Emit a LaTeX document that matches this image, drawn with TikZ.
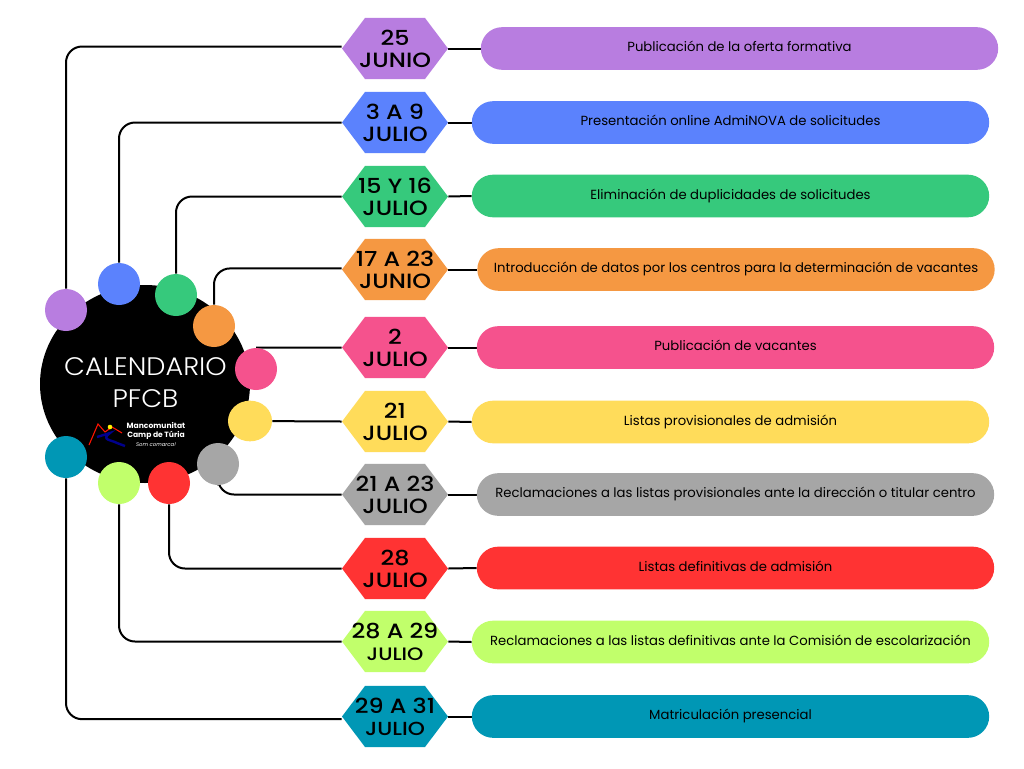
\documentclass[tikz,border=0pt]{standalone}
\usepackage{fontspec}
\setmainfont{Poppins}
\newfontfamily\fechafont[FakeStretch=1.15]{Poppins Medium}
\newfontfamily\titulofont[FakeStretch=1.07]{Poppins Light}
\usetikzlibrary{shapes.symbols,shapes.geometric,shapes.misc,backgrounds}
\definecolor{cPurple}{HTML}{B87DE0}
\definecolor{cBlue}{HTML}{5B82FD}
\definecolor{cGreen}{HTML}{36C97C}
\definecolor{cOrange}{HTML}{F59842}
\definecolor{cPink}{HTML}{F5528D}
\definecolor{cYellow}{HTML}{FFDC5A}
\definecolor{cGray}{HTML}{A6A6A6}
\definecolor{cRed}{HTML}{FF3333}
\definecolor{cLime}{HTML}{C1FF6B}
\definecolor{cTeal}{HTML}{0097B5}
\newcommand{\fechatxt}[2]{\makebox[0pt]{#1}\\\makebox[0pt]{#2}}
\tikzset{
	dot/.style={circle,fill=#1,minimum size=31.5,inner sep=0},
	fecha/.style={signal,signal to=west and east,signal pointer angle=106,fill=#1,minimum width=79.5,minimum height=45.8,inner sep=0,align=center,font=\fechafont\fontsize{15.5}{16.5}\selectfont},
	paso/.style={rounded rectangle,fill=#1,minimum width=388,minimum height=32,inner sep=0,text height=7.5,text depth=2.5,font=\fontsize{9.9}{11}\selectfont},
	enlace/.style={black,line width=1.5,rounded corners=12},
}
\begin{document}
\begin{tikzpicture}[x=0.75pt,y=-0.75pt]
	\useasboundingbox (0,0) rectangle (1024,768);

	\node[ellipse,fill=black,minimum width=157.5,minimum height=148.5,inner sep=0] (centro) at (145,384) {};
	\node[white,align=center,font=\titulofont\fontsize{19}{24.5}\selectfont] (titulo) at (145.5,382.5) {CALENDARIO\\PFCB};

	\draw[red!85!orange,line width=0.8] (89,445) -- (98,424) -- (105,432) -- (112,427) -- (122,433);
	\draw[blue!55!black,line width=1.8] (97,437) -- (110,433) .. controls (100,440) and (112,440) .. (117,443) -- (125,446);
	\fill[yellow] (110,427) circle (2.3);
	\node[white,align=center,font=\fontsize{5.7}{7}\selectfont\bfseries] (logo) at (156,431) {Mancomunitat\\Camp de Túria};
	\node[white,font=\fontsize{4}{5}\selectfont\itshape] (lema) at (156,444.5) {Som comarca!};

	\node[dot=cPurple] (dotA) at (66,310) {};
	\node[dot=cBlue] (dotB) at (119,284) {};
	\node[dot=cGreen] (dotC) at (176,295) {};
	\node[dot=cOrange] (dotD) at (214,326) {};
	\node[dot=cPink] (dotE) at (256,369) {};
	\node[dot=cYellow,minimum width=33,minimum height=30.5,ellipse] (dotF) at (250,421) {};
	\node[dot=cGray] (dotG) at (218,464) {};
	\node[dot=cRed] (dotH) at (169,483) {};
	\node[dot=cLime] (dotI) at (119,483) {};
	\node[dot=cTeal] (dotJ) at (66,457) {};

	\node[fecha=cPurple] (hexA) at (395,48.5) {\fechatxt{25}{JUNIO}};
	\node[fecha=cBlue] (hexB) at (395,122.5) {\fechatxt{3 A 9}{JULIO}};
	\node[fecha=cGreen] (hexC) at (395,196.5) {\fechatxt{15 Y 16}{JULIO}};
	\node[fecha=cOrange] (hexD) at (395,269.5) {\fechatxt{17 A 23}{JUNIO}};
	\node[fecha=cPink] (hexE) at (395,347.5) {\fechatxt{2}{JULIO}};
	\node[fecha=cYellow] (hexF) at (395,421.5) {\fechatxt{21}{JULIO}};
	\node[fecha=cGray] (hexG) at (395,494.5) {\fechatxt{21 A 23}{JULIO}};
	\node[fecha=cRed] (hexH) at (395,568.5) {\fechatxt{28}{JULIO}};
	\node[fecha=cLime] (hexI) at (395,641.5) {\fechatxt{28 A 29}{\fontsize{13.5}{16.5}\selectfont JULIO}};
	\node[fecha=cTeal] (hexJ) at (395,716.5) {\fechatxt{29 A 31}{\fontsize{14.2}{16.5}\selectfont JULIO}};

	\node[paso=cPurple] (pasoA) at (739.5,48.5) {Publicación de la oferta formativa};
	\node[paso=cBlue] (pasoB) at (730.5,122.5) {Presentación online AdmiNOVA de solicitudes};
	\node[paso=cGreen] (pasoC) at (730.5,196) {Eliminación de duplicidades de solicitudes};
	\node[paso=cOrange] (pasoD) at (736,269.5) {Introducción de datos por los centros para la determinación de vacantes};
	\node[paso=cPink] (pasoE) at (735.5,347.5) {Publicación de vacantes};
	\node[paso=cYellow] (pasoF) at (730.5,422) {Listas provisionales de admisión};
	\node[paso=cGray] (pasoG) at (735.5,494.5) {Reclamaciones a las listas provisionales ante la dirección o titular centro};
	\node[paso=cRed] (pasoH) at (735.5,568) {Listas definitivas de admisión};
	\node[paso=cLime] (pasoI) at (730.5,642) {Reclamaciones a las listas definitivas ante la Comisión de escolarización};
	\node[paso=cTeal] (pasoJ) at (730.5,716.5) {Matriculación presencial};

	\begin{scope}[on background layer]
		\fill[white] (0,0) rectangle (1024,768);
		\draw[enlace] (dotA) |- ([yshift=1.5]hexA.west);
		\draw[enlace] (dotB) |- (hexB.west);
		\draw[enlace] (dotC) |- (hexC.west);
		\draw[enlace] (dotD) |- ([yshift=0.8]hexD.west);
		\draw[enlace] (dotE.north) -- (hexE.west);
		\draw[enlace] (dotF) -- (hexF.west);
		\draw[enlace] (dotG) |- (hexG.west);
		\draw[enlace] (dotH) |- (hexH.west);
		\draw[enlace] (dotI) |- (hexI.west);
		\draw[enlace] (dotJ) |- ([yshift=-2]hexJ.west);
		\draw[enlace] (hexA.east) -- (pasoA.west);
		\draw[enlace] (hexB.east) -- (pasoB.west);
		\draw[enlace] (hexC.east) -- (pasoC.west);
		\draw[enlace] (hexD.east) -- (pasoD.west);
		\draw[enlace] (hexE.east) -- (pasoE.west);
		\draw[enlace] (hexF.east) -- (pasoF.west);
		\draw[enlace] (hexG.east) -- (pasoG.west);
		\draw[enlace] (hexH.east) -- (pasoH.west);
		\draw[enlace] (hexI.east) -- (pasoI.west);
		\draw[enlace] (hexJ.east) -- (pasoJ.west);
	\end{scope}
\end{tikzpicture}
\end{document}
